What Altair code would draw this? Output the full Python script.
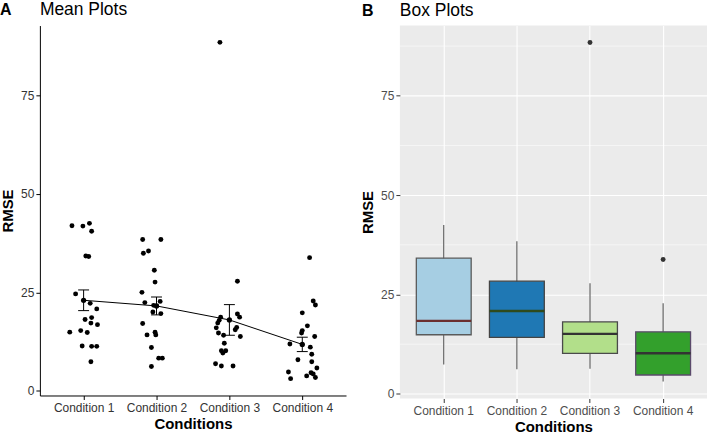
import altair as alt
import pandas as pd

conditions = ["Condition 1", "Condition 2", "Condition 3", "Condition 4"]

cond1 = [41.9, 41.8, 42.5, 40.5, 34.2, 34.1, 24.6, 22.2, 20.8, 18.1,
         18.6, 17.2, 16.8, 14.9, 15.3, 14.8, 11.4, 11.3, 11.3, 7.4]
jit1 = [-0.16, -0.01, 0.08, 0.11, 0.03, 0.07, -0.11, 0.09, 0.18, 0.02,
        0.11, 0.10, 0.19, -0.19, -0.04, 0.05, -0.02, 0.11, 0.18, 0.10]

cond2 = [38.4, 38.4, 34.9, 35.5, 30.6, 27.6, 25.0, 22.4, 21.7, 22.7,
         19.6, 20.0, 17.1, 14.2, 14.9, 14.2, 11.0, 8.3, 8.3, 6.2]
jit2 = [-0.19, 0.06, -0.18, -0.11, -0.03, -0.02, -0.20, -0.16, -0.04, 0.05,
        0.06, -0.05, -0.19, -0.13, -0.02, -0.01, -0.07, 0.03, 0.08, -0.07]

cond3 = [88.4, 27.8, 18.7, 17.9, 17.2, 16.0, 14.7, 14.1, 19.5, 18.7,
         16.1, 15.5, 13.8, 12.1, 10.2, 10.2, 9.6, 6.9, 6.3, 6.3]
jit3 = [-0.13, 0.11, -0.12, -0.14, -0.16, -0.18, -0.15, -0.08, 0.11, 0.14,
        0.10, 0.08, 0.15, -0.07, -0.11, -0.05, -0.09, -0.19, -0.11, 0.05]

cond4 = [33.8, 22.8, 21.8, 19.8, 16.5, 15.3, 14.7, 13.8, 11.9, 11.1,
         9.3, 7.9, 7.4, 5.8, 4.8, 3.1, 3.8, 4.6, 4.3, 3.4]
jit4 = [0.10, 0.15, 0.18, 0.0, 0.07, 0.0, -0.01, 0.17, -0.17, 0.11,
        0.13, -0.06, 0.13, 0.20, -0.19, -0.16, 0.06, 0.12, 0.15, 0.18]

y_ticks = [0, 25, 50, 75]
minor_breaks = [12.5, 37.5, 62.5, 87.5]
box_fills = ["#A6CEE3", "#1F78B4", "#B2DF8A", "#33A02C"]
box_strokes = ["#5a5a5a", "#444444", "#4a4a4a", "#5b4a6b"]
median_colors = ["#6b2f2f", "#2f4a1c", "#333333", "#333333"]

rows = []
for i, (vals, jit) in enumerate(zip([cond1, cond2, cond3, cond4],
                                    [jit1, jit2, jit3, jit4])):
    for v, j in zip(vals, jit):
        rows.append({"cond": conditions[i], "idx": i + 1, "xj": i + 1 + j, "RMSE": v})
df = pd.DataFrame(rows)

FONT = "Liberation Sans"
all_vals = cond1 + cond2 + cond3 + cond4
rng = max(all_vals) - min(all_vals)
ydom = [min(all_vals) - 0.05 * rng, max(all_vals) + 0.05 * rng]

# ---------------- Panel A: mean plots ----------------
xscale_q = alt.Scale(domain=[0.4, 4.6], nice=False, zero=False)
yscale = alt.Scale(domain=ydom, nice=False, zero=False)

left_x_axis = alt.Axis(values=[1, 2, 3, 4], labelExpr="'Condition ' + datum.value",
                       title="Conditions", grid=False, domainColor="black",
                       tickColor="black", tickSize=4, labelColor="#333333",
                       labelFontSize=12, labelPadding=3, labelFont=FONT,
                       titleFont=FONT, titleFontSize=15, titleFontWeight="bold",
                       titleColor="black", titlePadding=3, labelFlush=False)
left_y_axis = alt.Axis(values=y_ticks, title="RMSE", grid=False, domainColor="black",
                       tickColor="black", tickSize=4, labelColor="#333333",
                       labelFontSize=12, labelPadding=2, labelFont=FONT,
                       titleFont=FONT, titleFontSize=15, titleFontWeight="bold",
                       titleColor="black", titlePadding=5)

points = alt.Chart(df).mark_circle(size=24, color="black", opacity=1).encode(
    x=alt.X("xj:Q", scale=xscale_q, axis=left_x_axis),
    y=alt.Y("RMSE:Q", scale=yscale, axis=left_y_axis),
)

mean_base = alt.Chart(df).transform_aggregate(
    m="mean(RMSE)", se="stderr(RMSE)", groupby=["idx"]
).transform_calculate(
    lo="datum.m - datum.se", hi="datum.m + datum.se",
    xl="datum.idx - 0.075", xr="datum.idx + 0.075"
)
mean_line = mean_base.mark_line(color="black", strokeWidth=1).encode(
    x=alt.X("idx:Q"), y=alt.Y("m:Q"))
mean_pt = mean_base.mark_circle(size=28, color="black", opacity=1).encode(
    x="idx:Q", y="m:Q")
err = mean_base.mark_rule(color="black", strokeWidth=1).encode(
    x="idx:Q", y="lo:Q", y2="hi:Q")
cap_hi = mean_base.mark_rule(color="black", strokeWidth=1).encode(
    x="xl:Q", x2="xr:Q", y="hi:Q")
cap_lo = mean_base.mark_rule(color="black", strokeWidth=1).encode(
    x="xl:Q", x2="xr:Q", y="lo:Q")

tagA = alt.Chart(pd.DataFrame({"t": ["A"]})).mark_text(
    font=FONT, fontSize=16, fontWeight="bold", align="left", baseline="alphabetic",
    color="black").encode(text="t:N", x=alt.value(-40), y=alt.value(-11))
titleA = alt.Chart(pd.DataFrame({"t": ["Mean Plots"]})).mark_text(
    font=FONT, fontSize=17.5, align="left", baseline="alphabetic",
    color="black").encode(text="t:N", x=alt.value(0), y=alt.value(-11))

left = alt.layer(points, err, cap_hi, cap_lo, mean_line, mean_pt, tagA, titleA).properties(
    width=307, height=371,
    view=alt.ViewBackground(fill="white", strokeWidth=0))

# ---------------- Panel B: box plots ----------------
xcat = alt.X("cond:N", sort=conditions,
             scale=alt.Scale(domain=conditions, paddingInner=0, paddingOuter=0.1),
             axis=alt.Axis(title="Conditions", labelAngle=0, grid=True, gridColor="white",
                           gridWidth=1.1, domain=False, tickColor="#333333", tickSize=4,
                           labelColor="#4d4d4d", labelFontSize=12, labelPadding=3,
                           labelFont=FONT, titleFont=FONT, titleFontSize=15,
                           titleFontWeight="bold", titleColor="black", titlePadding=3,
                           bandPosition=0.5))
right_y_axis = alt.Axis(values=y_ticks, title="RMSE", grid=True, gridColor="white",
                        gridWidth=1.1, domain=False, tickColor="#333333", tickSize=4,
                        labelColor="#4d4d4d", labelFontSize=12, labelPadding=2,
                        labelFont=FONT, titleFont=FONT, titleFontSize=15,
                        titleFontWeight="bold", titleColor="black", titlePadding=5)

bbase = alt.Chart(df).transform_joinaggregate(
    q1="q1(RMSE)", q3="q3(RMSE)", med="median(RMSE)", groupby=["cond"]
).transform_calculate(
    lof="datum.q1 - 1.5 * (datum.q3 - datum.q1)",
    hif="datum.q3 + 1.5 * (datum.q3 - datum.q1)"
)

minor = alt.Chart(pd.DataFrame({"v": minor_breaks})).mark_rule(
    color="white", strokeWidth=0.55).encode(
    y=alt.Y("v:Q", scale=yscale, axis=right_y_axis))

whisk = bbase.transform_filter(
    "datum.RMSE >= datum.lof && datum.RMSE <= datum.hif"
).transform_aggregate(
    wmin="min(RMSE)", wmax="max(RMSE)", groupby=["cond"]
).mark_rule(color="#555555", strokeWidth=1.1).encode(
    x=xcat, y=alt.Y("wmin:Q"), y2="wmax:Q")

box = bbase.transform_aggregate(
    bq1="min(q1)", bq3="min(q3)", groupby=["cond"]
).mark_bar(size=55, strokeWidth=1.3).encode(
    x=xcat, y=alt.Y("bq1:Q"), y2="bq3:Q",
    fill=alt.Fill("cond:N", scale=alt.Scale(domain=conditions, range=box_fills), legend=None),
    stroke=alt.Stroke("cond:N", scale=alt.Scale(domain=conditions, range=box_strokes), legend=None))

med = bbase.transform_aggregate(
    bmed="min(med)", groupby=["cond"]
).mark_tick(size=55, thickness=2.4, opacity=1).encode(
    x=xcat, y=alt.Y("bmed:Q"),
    color=alt.Color("cond:N", scale=alt.Scale(domain=conditions, range=median_colors), legend=None))

outl = bbase.transform_filter(
    "datum.RMSE < datum.lof || datum.RMSE > datum.hif"
).mark_circle(size=24, color="#333333", opacity=1).encode(
    x=xcat, y=alt.Y("RMSE:Q"))

tagB = alt.Chart(pd.DataFrame({"t": ["B"]})).mark_text(
    font=FONT, fontSize=16, fontWeight="bold", align="left", baseline="alphabetic",
    color="black").encode(text="t:N", x=alt.value(-38), y=alt.value(-10))
titleB = alt.Chart(pd.DataFrame({"t": ["Box Plots"]})).mark_text(
    font=FONT, fontSize=17.5, align="left", baseline="alphabetic",
    color="black").encode(text="t:N", x=alt.value(0), y=alt.value(-10))

right = alt.layer(minor, whisk, box, med, outl, tagB, titleB).resolve_scale(
    fill="independent", stroke="independent", color="independent"
).properties(width=308, height=374,
             view=alt.ViewBackground(fill="#EBEBEB", strokeWidth=0))

chart = alt.hconcat(left, right, spacing=14).properties(
    padding={"left": 0, "top": 0, "right": 0, "bottom": 0},
    background="white"
).configure_view(strokeWidth=0)

chart.save("out.html", embed_options={"renderer": "svg", "actions": False})
